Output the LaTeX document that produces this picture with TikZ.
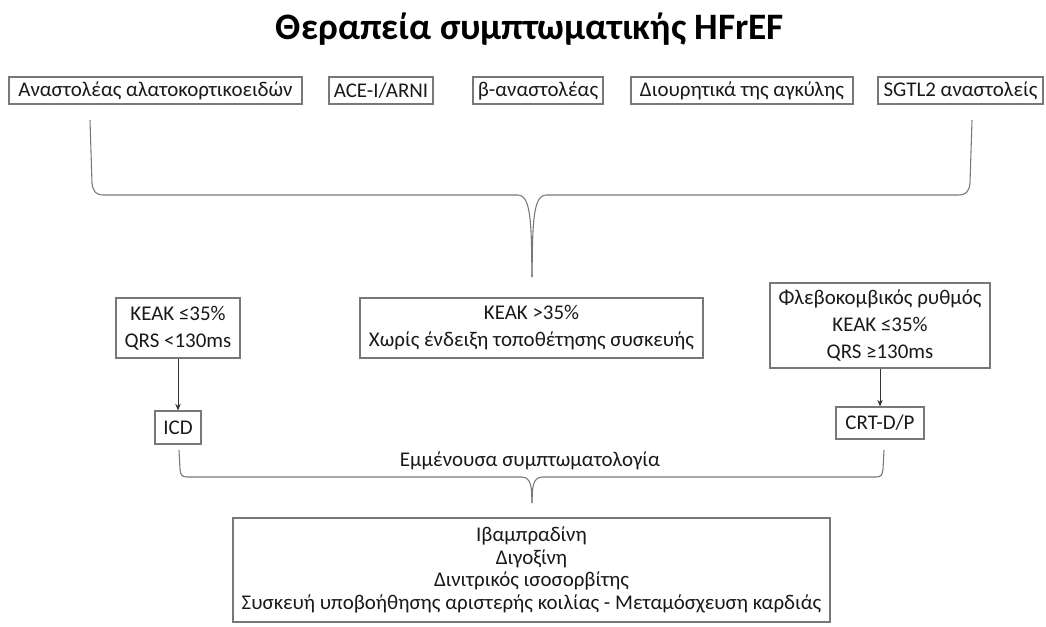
\documentclass[tikz,border=0pt]{standalone}
\usepackage{fontspec}
\setmainfont{Carlito}
\usetikzlibrary{arrows.meta}
\definecolor{boxline}{RGB}{120,120,120}
\definecolor{txt}{RGB}{25,25,25}
\begin{document}
\begin{tikzpicture}[x=0.75pt,y=-0.75pt,
  box/.style={draw=boxline,line width=0.8pt,inner sep=0pt,align=center,text=txt,
    font=\fontsize{15.7}{20.25}\selectfont},
  brace/.style={draw=boxline,line width=0.8pt},
  arr/.style={draw=black!80,line width=0.6pt,-{Stealth[length=5pt,width=4pt]}}]
\useasboundingbox (0,0) rectangle (1046,626);
\node[font=\fontsize{28}{32}\bfseries,text=black] (title) at (530,29) {Θεραπεία συμπτωματικής HFrEF};
% top row
\node[box,minimum width=219.75pt,minimum height=20.25pt] (t1) at (155.5,90.5) {Αναστολέας αλατοκορτικοειδών};
\node[box,minimum width=78pt,minimum height=20.25pt] (t2) at (381,90.5) {ACE-I/ARNI};
\node[box,minimum width=97.5pt,minimum height=20.25pt] (t3) at (538,90.5) {β-αναστολέας};
\node[box,minimum width=166.5pt,minimum height=20.25pt] (t4) at (742,90.5) {Διουρητικά της αγκύλης};
\node[box,minimum width=123.75pt,minimum height=20.25pt] (t5) at (960.5,90.5) {SGTL2 αναστολείς};
% top brace
\coordinate (b1l) at (90,120);
\coordinate (b1r) at (972,120);
\coordinate (b1tip) at (532,277);
\draw[brace] (b1l) -- (92,183) .. controls (93,192) and (96,195) .. (104,195) -- (518,195)
  .. controls (528,195) and (531,212) .. (531.6,250) -- (b1tip);
\draw[brace] (b1r) -- (970,183) .. controls (969,192) and (966,195) .. (958,195) -- (546,195)
  .. controls (536,195) and (533,212) .. (532.4,250) -- (b1tip);
% middle row
\node[box,minimum width=93pt,minimum height=45pt] (m1) at (178,328) {ΚΕΑΚ ≤35\%\\QRS <130ms};
\node[box,minimum width=257.25pt,minimum height=45pt] (m2) at (531.5,328) {ΚΕΑΚ >35\%\\Χωρίς ένδειξη τοποθέτησης συσκευής};
\node[box,minimum width=165pt,minimum height=63.75pt] (m3) at (880,325.5) {Φλεβοκομβικός ρυθμός\\ΚΕΑΚ ≤35\%\\QRS ≥130ms};
\node[box,minimum width=34.5pt,minimum height=24.75pt] (icd) at (178,427.5) {ICD};
\node[box,minimum width=66pt,minimum height=24pt] (crt) at (880,423) {CRT-D/P};
\draw[arr] (m1.south) -- (icd.north);
\draw[arr] (m3.south) -- (crt.north);
% second brace
\node[text=txt,font=\fontsize{15.7}{18}\selectfont] (lbl) at (530,461) {Εμμένουσα συμπτωματολογία};
\coordinate (b2l) at (179,450);
\coordinate (b2r) at (884,450);
\coordinate (b2tip) at (532,503);
\draw[brace] (b2l) -- (180,469) .. controls (180.5,475) and (182,477) .. (187,477) -- (522,477)
  .. controls (528,477) and (531,482) .. (531.6,492) -- (b2tip);
\draw[brace] (b2r) -- (883,469) .. controls (882.5,475) and (881,477) .. (876,477) -- (542,477)
  .. controls (536,477) and (533,482) .. (532.4,492) -- (b2tip);
% bottom box
\node[box,minimum width=447.75pt,minimum height=78pt,font=\fontsize{15.7}{17}\selectfont] (bot) at (531.5,570)
  {Ιβαμπραδίνη\\Διγοξίνη\\Δινιτρικός ισοσορβίτης\\Συσκευή υποβοήθησης αριστερής κοιλίας - Μεταμόσχευση καρδιάς};
\end{tikzpicture}
\end{document}
